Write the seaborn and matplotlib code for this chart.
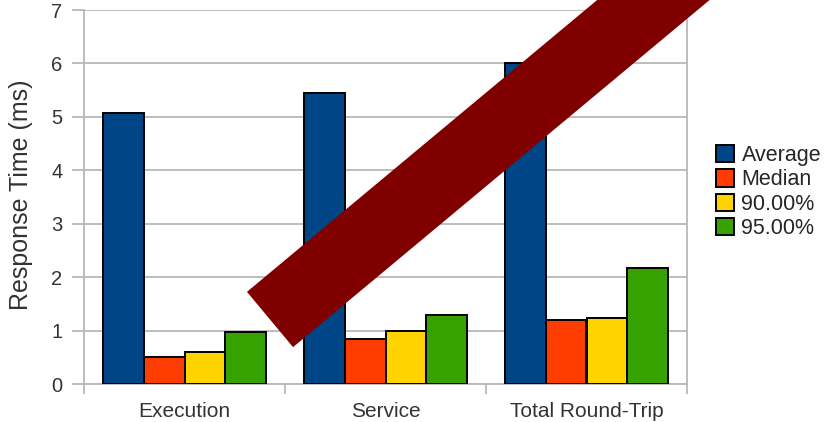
import matplotlib
matplotlib.use("Agg")
import matplotlib.pyplot as plt
from matplotlib.patches import Polygon
import numpy as np
import pandas as pd
import seaborn as sns

categories = ["Execution", "Service", "Total Round-Trip"]
metrics = ["Average", "Median", "90.00%", "95.00%"]
average = [5.08, 5.45, 6.0]
median = [0.5, 0.85, 1.2]
pct90 = [0.6, 1.0, 1.24]
pct95 = [0.97, 1.29, 2.17]
colors = ["#004586", "#ff3c00", "#ffd300", "#36a200"]

rows = []
for m, vals in zip(metrics, [average, median, pct90, pct95]):
    for c, v in zip(categories, vals):
        rows.append({"category": c, "metric": m, "time": v})
df = pd.DataFrame(rows)

sns.set_style("white")
plt.rcParams["font.family"] = ["Liberation Sans", "DejaVu Sans"]

W, H = 837, 422
fig = plt.figure(figsize=(W / 100, H / 100), dpi=100)
ax = fig.add_axes([84 / W, 1 - 384 / H, (687 - 84) / W, (384 - 10) / H])

sns.barplot(data=df, x="category", y="time", hue="metric", palette=colors,
            saturation=1, width=0.81, gap=0, edgecolor="black", linewidth=1.4,
            ax=ax, zorder=3)

grid_c = "#b8b8b8"
ax.set_ylim(0, 7)
ax.set_xlim(-0.5, 2.5)
ax.set_yticks(range(8))
ax.yaxis.grid(True, color=grid_c, linewidth=1.3, zorder=0)
ax.set_axisbelow(True)
for s in ["left", "right", "bottom"]:
    ax.spines[s].set_color(grid_c)
    ax.spines[s].set_linewidth(1.3)
ax.spines["top"].set_visible(False)

ax.tick_params(axis="y", length=8.5, width=1.3, color=grid_c, pad=7,
               labelsize=14.5, labelcolor="#333333", left=True)
ax.set_xticks(range(3))
ax.set_xticklabels(categories)
ax.tick_params(axis="x", length=0, pad=13, labelsize=15, labelcolor="#333333")
ax.set_xticks([-0.5, 0.5, 1.5, 2.5], minor=True)
ax.tick_params(axis="x", which="minor", length=7.5, width=1.3, color=grid_c, bottom=True)

ax.set_xlabel("")
ax.set_ylabel("Response Time (ms)", fontsize=18, color="#333333")
ax.yaxis.set_label_coords(-0.085, 0.505)

ax.legend(loc="center left", bbox_to_anchor=(0.855, 0.545), bbox_transform=fig.transFigure,
          frameon=False, fontsize=15.5, handlelength=0.85, handleheight=0.85,
          handletextpad=0.35, labelspacing=0.15, borderpad=0, borderaxespad=0)

# diagonal strike-through overlay (pixel geometry, y measured from top)
start = np.array([270.0, 319.5])
d = np.array([0.768, -0.640])
n = np.array([0.640, 0.768])
half = 36.0
end = start + 700 * d
corners = [start + half * n, end + half * n, end - half * n, start - half * n]
corners = [(x / W, 1 - y / H) for x, y in corners]
fig.add_artist(Polygon(corners, closed=True, transform=fig.transFigure,
                       facecolor="#800000", edgecolor="none", zorder=10))

fig.savefig("out.png", dpi=100)
